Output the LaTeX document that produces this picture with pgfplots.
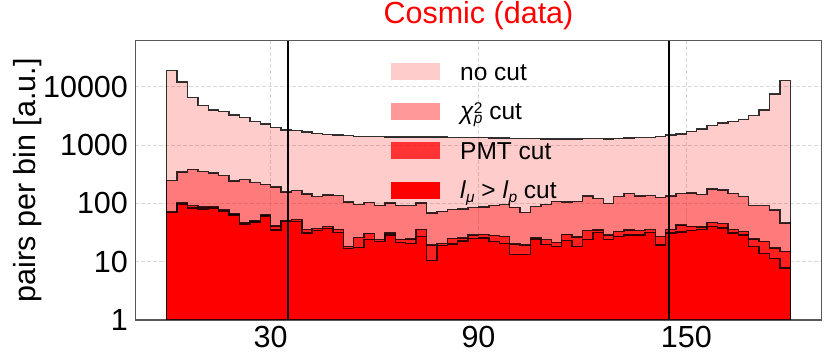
\documentclass[border=0pt]{standalone}
\usepackage{fontspec}
\setmainfont{Liberation Sans}
\usepackage{pgfplots}
\usepackage{pgfplotstable}
\pgfplotsset{compat=1.18}

% 60 bins of 3 deg, value at left edge; last row repeats bin 59 for the right edge
\pgfplotstableread{
x nocut chi pmt lmu
0 18900 247 72 69
3 12000 348 103 97
6 6600 384 91 84
9 4800 352 87 80
12 4000 332 88 84
15 3800 301 77 72
18 3300 242 66 63
21 2950 255 47 44
24 2520 228 50 48
27 2300 213 63 61
30 2000 191 41 35
33 1820 157 51 49
36 1770 165 53 49
39 1680 145 36 31
42 1600 130 37 34
45 1530 139 40 37
48 1490 136 36 32
51 1450 106 18.4 17
54 1420 95 26 17.5
57 1410 104 30.7 24.3
60 1400 93 23.8 22
63 1380 102 31.1 28.7
66 1380 93 24.3 21.3
69 1370 91 24.7 20.4
72 1375 102 36 27.3
75 1370 68 19.3 10.4
78 1370 73 20.4 19
81 1340 78 24.8 20.1
84 1350 80 25.5 22.8
87 1355 85 28.7 24.8
90 1340 87 29.5 25.5
93 1330 93 28.1 22
96 1320 95 27.3 20.7
99 1310 86 20 13.3
102 1300 70 19.3 13.3
105 1290 88 25.5 24.3
108 1270 96 23.8 19.7
111 1265 108 21.3 18.4
114 1270 105 29.6 23.1
117 1280 109 26.5 18.1
120 1290 135 33.9 24.3
123 1285 122 35 31.7
126 1280 99 28.7 24.3
129 1300 132 32.7 26.8
132 1320 149 35 28.7
135 1340 135 33.9 28.7
138 1360 137 35.3 31.7
141 1400 127 26.8 19.3
144 1480 134 36 31.1
147 1550 147 42.6 32.1
150 1730 151 40.6 33.9
153 1900 142 39.4 35.4
156 2150 178 47 39.8
159 2390 170 44.7 38.1
162 2570 149 35.4 31.1
165 2770 132 32.7 28.7
168 3220 91 24.7 18.1
171 4000 91 22.4 13.7
174 7520 77 17.3 11.3
177 12730 46 15.1 7.8
180 12730 46 15.1 7.8
}\hist

\newcommand{\bigfont}{\fontsize{30.5bp}{36bp}\selectfont}
\newcommand{\legfont}{\fontsize{24.5bp}{29bp}\selectfont}
\newcommand{\scr}{\fontsize{15.5bp}{16bp}\selectfont}
\newcommand{\chip}{\textit{χ}\rlap{\raisebox{6bp}{\scr 2}}\raisebox{-4bp}{\scr\itshape p}}
\newcommand{\lmu}{\textit{l}\raisebox{-4bp}{\scr\itshape μ} > \textit{l}\raisebox{-4bp}{\scr\itshape p}}

\begin{document}
\begin{tikzpicture}
\begin{axis}[
  scale only axis, width=686bp, height=279.3bp,
  xmin=-9, xmax=189,
  ymode=log, ymin=1, ymax=61800,
  xtick={30,90,150}, ytick={1,10,100,1000,10000},
  log ticks with fixed point,
  /pgf/number format/1000 sep={},
  /pgf/number format/assume math mode=true,
  yminorticks=false,
  major tick length=0pt, minor tick length=0pt,
  grid=major,
  grid style={black!15, line width=0.8bp, dash pattern=on 4bp off 2bp},
  axis line style={black!65, line width=1.1bp},
  tick label style={font=\bigfont, inner sep=0pt},
  xticklabel style={yshift=-6bp},
  yticklabel style={xshift=-7.4bp},
  title={Cosmic (data)},
  title style={at={(rel axis cs:0.5,1.0408)}, anchor=base, font=\bigfont, text=red, inner sep=0pt},
  ylabel={pairs per bin [a.u.]},
  ylabel style={at={(rel axis cs:-0.1458,0.5)}, anchor=base, font=\bigfont, inner sep=0pt},
  legend cell align=left,
  legend style={at={(0.3724,0.9194)}, anchor=north west, draw=none, fill=none,
    inner sep=0pt, column sep=20bp, row sep=17.7bp, font=\legfont,
    nodes={inner sep=0pt, text height=14bp, text depth=5bp}},
  legend image code/.code={\path[#1,draw=none] (0bp,-4.7bp) rectangle (49bp,12.3bp);},
  edge/.style={const plot, draw=black, draw opacity=0.8, line width=1.4bp},
]
\addplot[edge, fill=red, fill opacity=0.2] table[x=x, y=nocut] {\hist} \closedcycle;
\addlegendentry{no cut}
\addplot[edge, fill=red, fill opacity=0.4] table[x=x, y=chi] {\hist} \closedcycle;
\addlegendentry{\chip{} cut}
\addplot[edge, fill=red, fill opacity=0.75] table[x=x, y=pmt] {\hist} \closedcycle;
\addlegendentry{PMT cut}
\addplot[edge, fill=red] table[x=x, y=lmu] {\hist} \closedcycle;
\addlegendentry{\lmu{} cut}
\addplot[black, line width=1.6bp, forget plot] coordinates {(35,1) (35,61800)};
\addplot[black, line width=1.6bp, forget plot] coordinates {(145,1) (145,61800)};
\coordinate (bl) at (rel axis cs:0,0);
\coordinate (tr) at (rel axis cs:1,1);
\end{axis}
\pgfresetboundingbox
\path ([shift={(-135.5bp,-43bp)}]bl) rectangle ([shift={(8.5bp,40.7bp)}]tr);
\end{tikzpicture}
\end{document}
